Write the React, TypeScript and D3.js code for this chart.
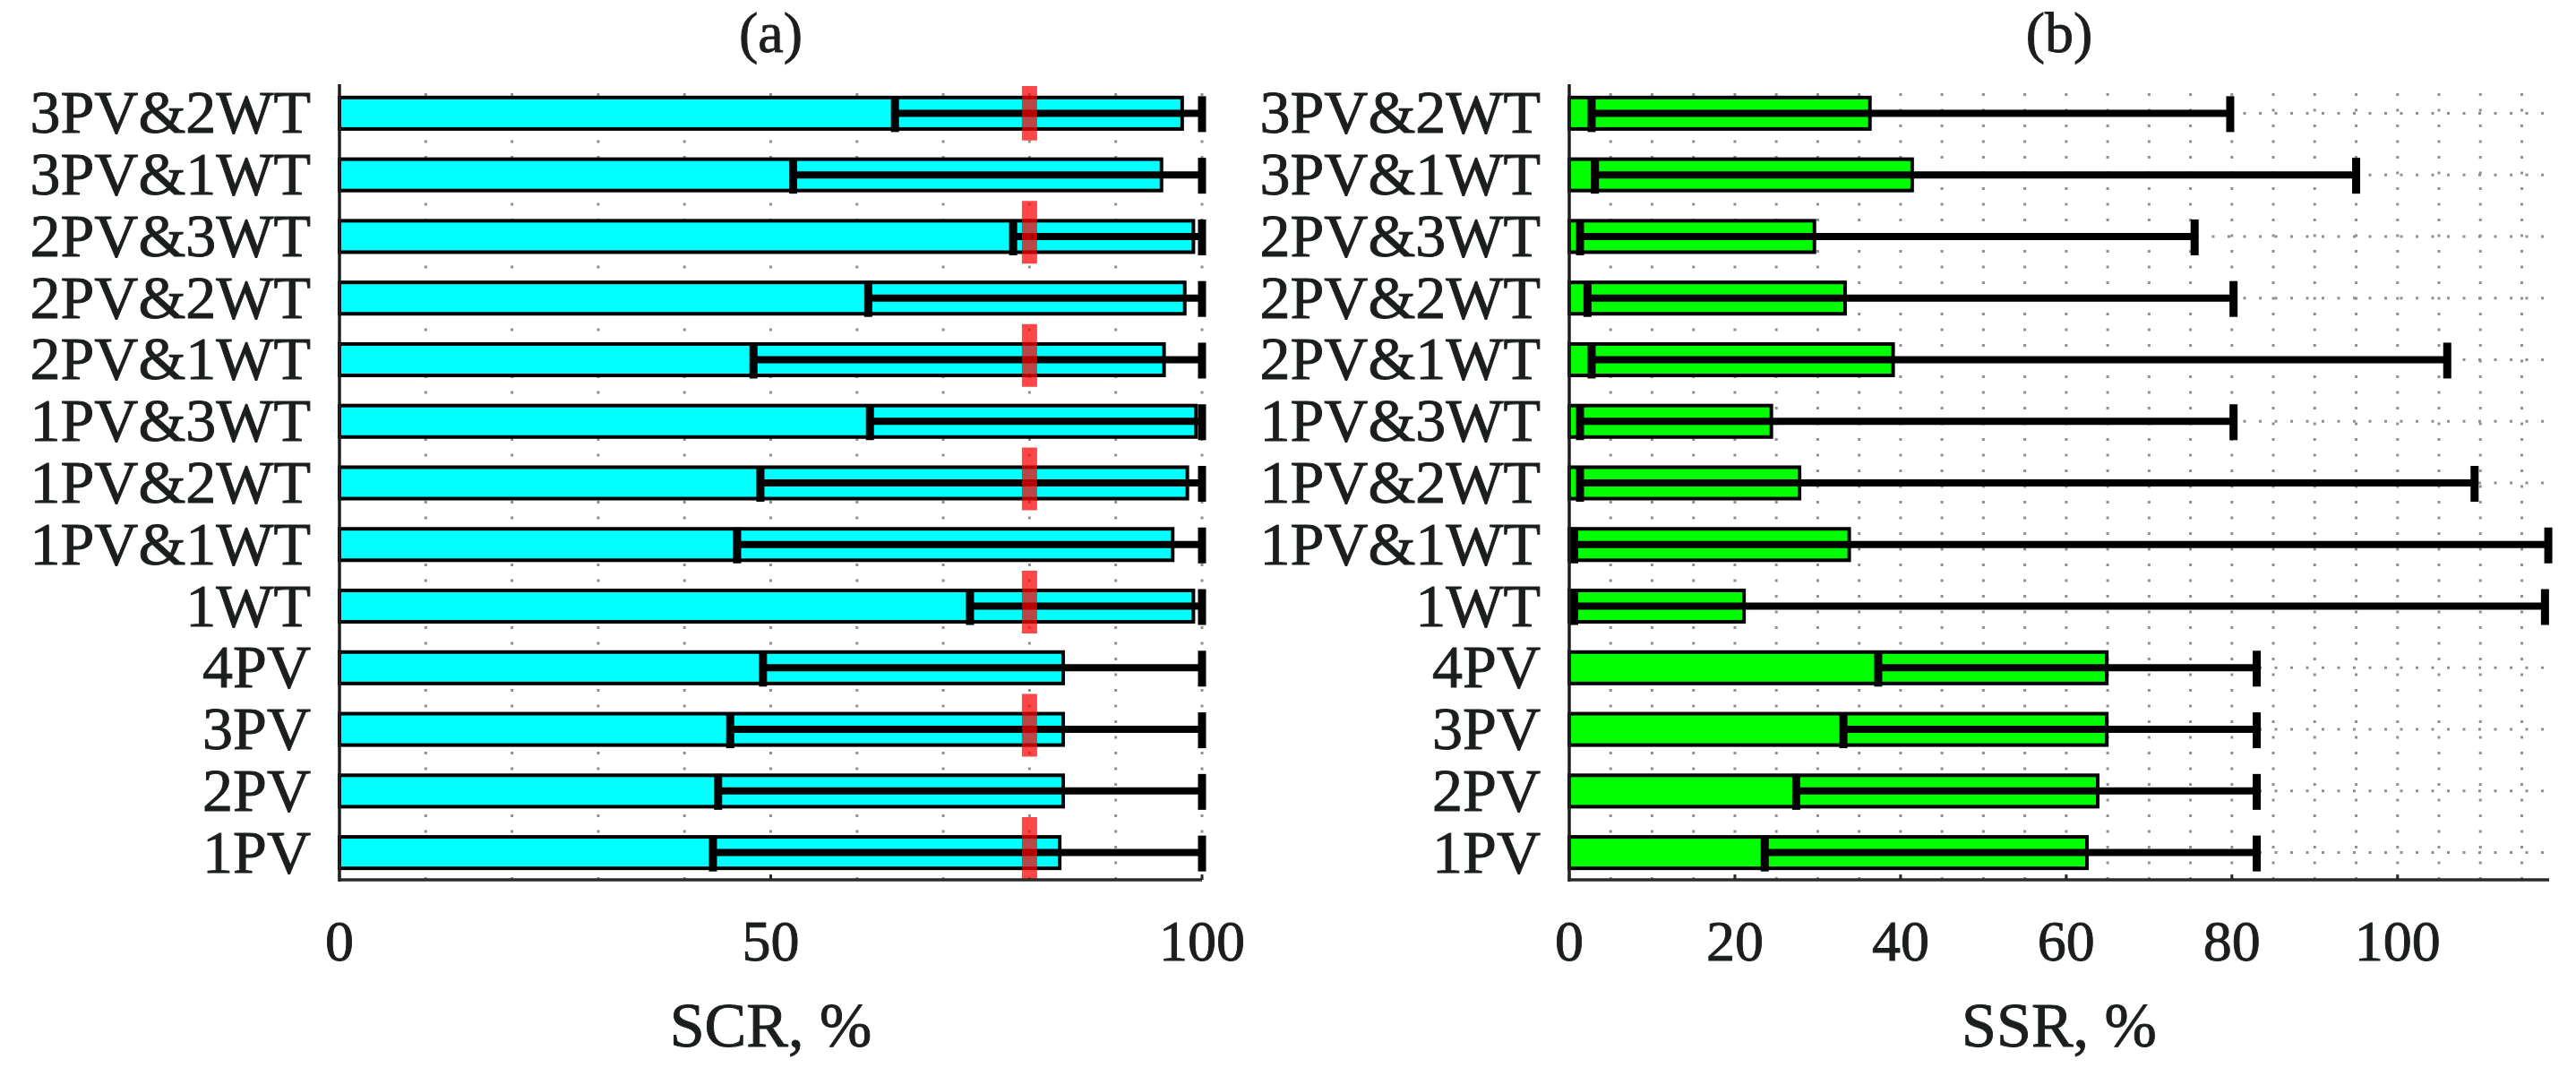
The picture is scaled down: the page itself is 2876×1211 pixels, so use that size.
import React from "react";
import * as d3 from "d3";

// Categories, top to bottom
const categories = [
  "3PV&2WT",
  "3PV&1WT",
  "2PV&3WT",
  "2PV&2WT",
  "2PV&1WT",
  "1PV&3WT",
  "1PV&2WT",
  "1PV&1WT",
  "1WT",
  "4PV",
  "3PV",
  "2PV",
  "1PV",
];

// (a) SCR, %
const scrMean = [97.7, 95.3, 99.0, 98.0, 95.6, 99.3, 98.3, 96.6, 99.0, 83.9, 83.9, 83.9, 83.5];
const scrLow = [64.4, 52.6, 78.1, 61.3, 48.0, 61.5, 48.8, 46.1, 73.1, 49.1, 45.3, 43.9, 43.3];
const scrHigh = [100, 100, 100, 100, 100, 100, 100, 100, 100, 100, 100, 100, 100];
const scrTarget = 80;
const scrTicks = [0, 50, 100];
const scrMax = 100;

// (b) SSR, %
const ssrMean = [36.3, 41.4, 29.6, 33.3, 39.1, 24.4, 27.8, 33.8, 21.1, 64.9, 64.9, 63.8, 62.5];
const ssrLow = [2.7, 3.1, 1.3, 2.2, 2.7, 1.3, 1.3, 0.6, 0.6, 37.3, 33.1, 27.4, 23.6];
const ssrHigh = [79.8, 95.0, 75.5, 80.2, 106.0, 80.2, 109.3, 118.2, 117.8, 83.0, 83.0, 83.0, 83.0];
const ssrTicks = [0, 20, 40, 60, 80, 100];
const ssrMax = 118.3;

const panelTitles = ["(a)", "(b)"];
const axisTitles = ["SCR, %", "SSR, %"];

const W = 2876;
const H = 1211;
const TOP = 94;
const BOTTOM = 982;
const FONT = "'Liberation Serif', 'Times New Roman', serif";
const TEXT = "#1b1f1c";
const GRID = "#8f8f8f";

type PanelProps = {
  x0: number;
  x1: number;
  domainMax: number;
  ticks: number[];
  gridStep: number;
  mean: number[];
  low: number[];
  high: number[];
  fill: string;
  title: string;
  axisTitle: string;
  hGrid: boolean;
  target?: number;
};

const textStyle = {
  fontFamily: FONT,
  fill: TEXT,
  stroke: TEXT,
  strokeWidth: 0.9,
};

function Panel(p: PanelProps) {
  const x = d3.scaleLinear().domain([0, p.domainMax]).range([p.x0, p.x1]);
  const y = d3.scaleBand<string>().domain(categories).range([92, 986]);
  const step = y.step();
  const cy = (c: string) => (y(c) as number) + y.bandwidth() / 2;
  const bh = step * 0.51;
  const gridVals = d3.range(p.gridStep, p.domainMax + 1e-6, p.gridStep);
  const cx = (p.x0 + p.x1) / 2;
  const dash = 70;

  return (
    <g>
      {/* vertical dotted grid */}
      {gridVals.map((v) => (
        <line
          key={"vg" + v}
          x1={x(v)}
          x2={x(v)}
          y1={TOP}
          y2={BOTTOM}
          stroke={GRID}
          strokeWidth={3}
          strokeDasharray="3 14.5"
          strokeDashoffset={7.5}
        />
      ))}
      {/* horizontal dotted grid */}
      {p.hGrid &&
        categories.map((c) => (
          <line
            key={"hg" + c}
            x1={p.x0}
            x2={p.x1}
            y1={cy(c)}
            y2={cy(c)}
            stroke={GRID}
            strokeWidth={3}
            strokeDasharray="3 14.5"
          />
        ))}
      {/* bars */}
      {categories.map((c, i) => (
        <rect
          key={"b" + c}
          x={x(0)}
          y={cy(c) - bh / 2}
          width={x(p.mean[i]) - x(0)}
          height={bh}
          fill={p.fill}
          stroke="#000"
          strokeWidth={4}
        />
      ))}
      {/* error bars */}
      {categories.map((c, i) => (
        <g key={"e" + c}>
          <line
            x1={x(p.low[i])}
            x2={x(p.high[i])}
            y1={cy(c)}
            y2={cy(c)}
            stroke="#000"
            strokeWidth={8}
          />
          <rect x={x(p.low[i]) - 4.5} y={cy(c) - 19} width={9} height={40} fill="#000" />
          <rect x={x(p.high[i]) - 4.5} y={cy(c) - 19} width={9} height={40} fill="#000" />
        </g>
      ))}
      {/* target dashed line */}
      {p.target !== undefined && (
        <line
          x1={x(p.target)}
          x2={x(p.target)}
          y1={BOTTOM}
          y2={TOP + 2}
          stroke="rgb(255,0,0)"
          strokeOpacity={0.72}
          strokeWidth={17}
          strokeDasharray={`${dash} ${2 * step - dash}`}
        />
      )}
      {/* axes */}
      <line x1={p.x0} x2={p.x0} y1={TOP} y2={BOTTOM + 2} stroke="#1e1e1e" strokeWidth={3.5} />
      <line x1={p.x0} x2={p.x1} y1={BOTTOM} y2={BOTTOM} stroke="#2a2a2a" strokeWidth={3.5} />
      {p.ticks.map((t) => (
        <line key={"t" + t} x1={x(t)} x2={x(t)} y1={BOTTOM} y2={BOTTOM - 6} stroke="#2a2a2a" strokeWidth={3} />
      ))}
      {p.ticks.map((t) => (
        <text key={"tl" + t} x={x(t)} y={1072} fontSize={64} textAnchor="middle" style={textStyle}>
          {t}
        </text>
      ))}
      {/* category labels */}
      {categories.map((c) => (
        <text
          key={"cl" + c}
          x={p.x0 - 32}
          y={cy(c) + 22}
          fontSize={68}
          textAnchor="end"
          style={textStyle}
        >
          {c}
        </text>
      ))}
      <text x={cx} y={58} fontSize={64} textAnchor="middle" style={textStyle}>
        {p.title}
      </text>
      <text x={cx} y={1168} fontSize={70} textAnchor="middle" style={textStyle}>
        {p.axisTitle}
      </text>
    </g>
  );
}

export default function App() {
  return (
    <svg
      width={W}
      height={H}
      viewBox={`0 0 ${W} ${H}`}
      style={{ position: "absolute", left: 0, top: 0, background: "#fff" }}
    >
      <rect x={0} y={0} width={W} height={H} fill="#fff" />
      <Panel
        x0={379}
        x1={1342}
        domainMax={scrMax}
        ticks={scrTicks}
        gridStep={10}
        mean={scrMean}
        low={scrLow}
        high={scrHigh}
        fill="#00ffff"
        title={panelTitles[0]}
        axisTitle={axisTitles[0]}
        hGrid={false}
        target={scrTarget}
      />
      <Panel
        x0={1752}
        x1={2846}
        domainMax={ssrMax}
        ticks={ssrTicks}
        gridStep={5}
        mean={ssrMean}
        low={ssrLow}
        high={ssrHigh}
        fill="#00ff00"
        title={panelTitles[1]}
        axisTitle={axisTitles[1]}
        hGrid={true}
      />
    </svg>
  );
}
